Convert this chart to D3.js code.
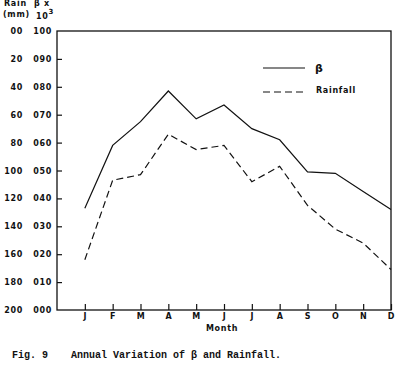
<!DOCTYPE html>
<html>
<head>
<meta charset="utf-8">
<script src="https://cdn.jsdelivr.net/npm/d3@7"></script>
<style>
  body { margin: 0; background: #fff; }
  svg text { fill: #111; }
  .lab { font-family: "DejaVu Sans", sans-serif; font-size: 8px; font-weight: bold; letter-spacing: 0.7px; }
  .cap { font-family: "Liberation Mono", monospace; font-size: 10px; font-weight: bold; }
</style>
</head>
<body>
<svg id="chart" width="400" height="365"></svg>
<script>
// months along the bottom
var months = ["J", "F", "M", "A", "M", "J", "J", "A", "S", "O", "N", "D"];
// beta x 10^3 (right hand scale, 000-100)
var beta = [36.5, 59, 67.5, 78.5, 68.5, 73.5, 65, 61, 49.5, 49, 42.5, 36];
// rainfall in mm (left hand scale, inverted 0-200)
var rainfall = [164, 107, 103, 74, 85, 82, 108, 97, 125, 142, 152, 171];
// tick values / labels
var betaTicks = [0, 10, 20, 30, 40, 50, 60, 70, 80, 90, 100];
var rainTicks = [0, 20, 40, 60, 80, 100, 120, 140, 160, 180, 200];
var rainLabels = ["00", "20", "40", "60", "80", "100", "120", "140", "160", "180", "200"];

var svg = d3.select("#chart");
// plot box (note: "top" is taken by window.top)
var pL = 57, pR = 391, pT = 31, pB = 310;

var x = d3.scaleLinear().domain([0, 12]).range([pL, pR]);
var y = d3.scaleLinear().domain([0, 100]).range([pB, pT]);
var yRain = d3.scaleLinear().domain([0, 200]).range([pT, pB]);

// frame
svg.append("rect")
   .attr("x", pL).attr("y", pT)
   .attr("width", pR - pL).attr("height", pB - pT)
   .attr("fill", "none").attr("stroke", "#111").attr("stroke-width", 1.3);

// left axis (beta), ticks point inwards
var gy = svg.append("g")
   .attr("transform", "translate(" + pL + ",0)")
   .call(d3.axisLeft(y).tickValues(betaTicks).tickSize(-5).tickPadding(5)
        .tickFormat(d3.format("03d")));
gy.select(".domain").remove();
gy.selectAll(".tick line").attr("stroke", "#111").attr("stroke-width", 1.2)
  .filter(function(d) { return d == 0 || d == 100; }).remove();
gy.attr("font-family", null).attr("font-size", null);
gy.selectAll("text").attr("class", "lab");

// rain labels column
var gr = svg.append("g")
   .attr("transform", "translate(" + pL + ",0)")
   .call(d3.axisLeft(yRain).tickValues(rainTicks).tickSize(0).tickPadding(34)
        .tickFormat(function(d, i) { return rainLabels[i]; }));
gr.select(".domain").remove();
gr.attr("font-family", null).attr("font-size", null);
gr.selectAll("text").attr("class", "lab");

// bottom axis, ticks point up
var gx = svg.append("g")
   .attr("transform", "translate(0," + pB + ")")
   .call(d3.axisBottom(x).tickValues(d3.range(1, 13)).tickSize(-6).tickPadding(3)
        .tickFormat(function(d) { return months[d - 1]; }));
gx.select(".domain").remove();
gx.attr("font-family", null).attr("font-size", null);
gx.selectAll(".tick line").attr("stroke", "#111").attr("stroke-width", 1.2);
gx.selectAll("text").attr("class", "lab").attr("font-size", "7.5px");

svg.append("text").attr("class", "lab").attr("x", 222).attr("y", 331)
   .attr("text-anchor", "middle").attr("font-size", "7.5px").attr("letter-spacing", "0.4px")
   .text("Month");

// header labels (cut at the top edge in the scan, kept just inside here)
svg.append("text").attr("class", "lab").attr("x", 4).attr("y", 6).text("Rain");
svg.append("text").attr("class", "lab").attr("x", 3).attr("y", 17).text("(mm)");
svg.append("text").attr("class", "lab").attr("x", 34).attr("y", 6).text("β x");
var p = svg.append("text").attr("class", "lab").attr("x", 36).attr("y", 19)
   .attr("font-size", "10px").attr("font-weight", "normal").text("10");
p.append("tspan").attr("dy", -5).attr("font-size", "7px").text("3");

// lines
var line = d3.line().x(function(d, i) { return x(i + 1); });
svg.append("path")
   .attr("d", line.y(function(d) { return y(d); })(beta))
   .attr("fill", "none").attr("stroke", "#111").attr("stroke-width", 1.2);
svg.append("path")
   .attr("d", line.y(function(d) { return yRain(d); })(rainfall))
   .attr("fill", "none").attr("stroke", "#111").attr("stroke-width", 1.2)
   .attr("stroke-dasharray", "7,4");

// legend
svg.append("line").attr("x1", 263).attr("x2", 305).attr("y1", 68).attr("y2", 68)
   .attr("stroke", "#111").attr("stroke-width", 1.2);
svg.append("text").attr("x", 315).attr("y", 72).attr("font-family", "DejaVu Sans")
   .attr("font-size", "11px").attr("font-weight", "bold").text("β");
svg.append("line").attr("x1", 263).attr("x2", 305).attr("y1", 92).attr("y2", 92)
   .attr("stroke", "#111").attr("stroke-width", 1.2).attr("stroke-dasharray", "7,4");
svg.append("text").attr("class", "lab").attr("x", 316).attr("y", 93)
   .attr("font-size", "7.5px").attr("letter-spacing", "0.4px")
   .text("Rainfall");

// caption
svg.append("text").attr("class", "cap").attr("x", 12).attr("y", 358).text("Fig. 9");
svg.append("text").attr("class", "cap").attr("x", 71).attr("y", 358)
   .text("Annual Variation of β and Rainfall.");
</script>
</body>
</html>
